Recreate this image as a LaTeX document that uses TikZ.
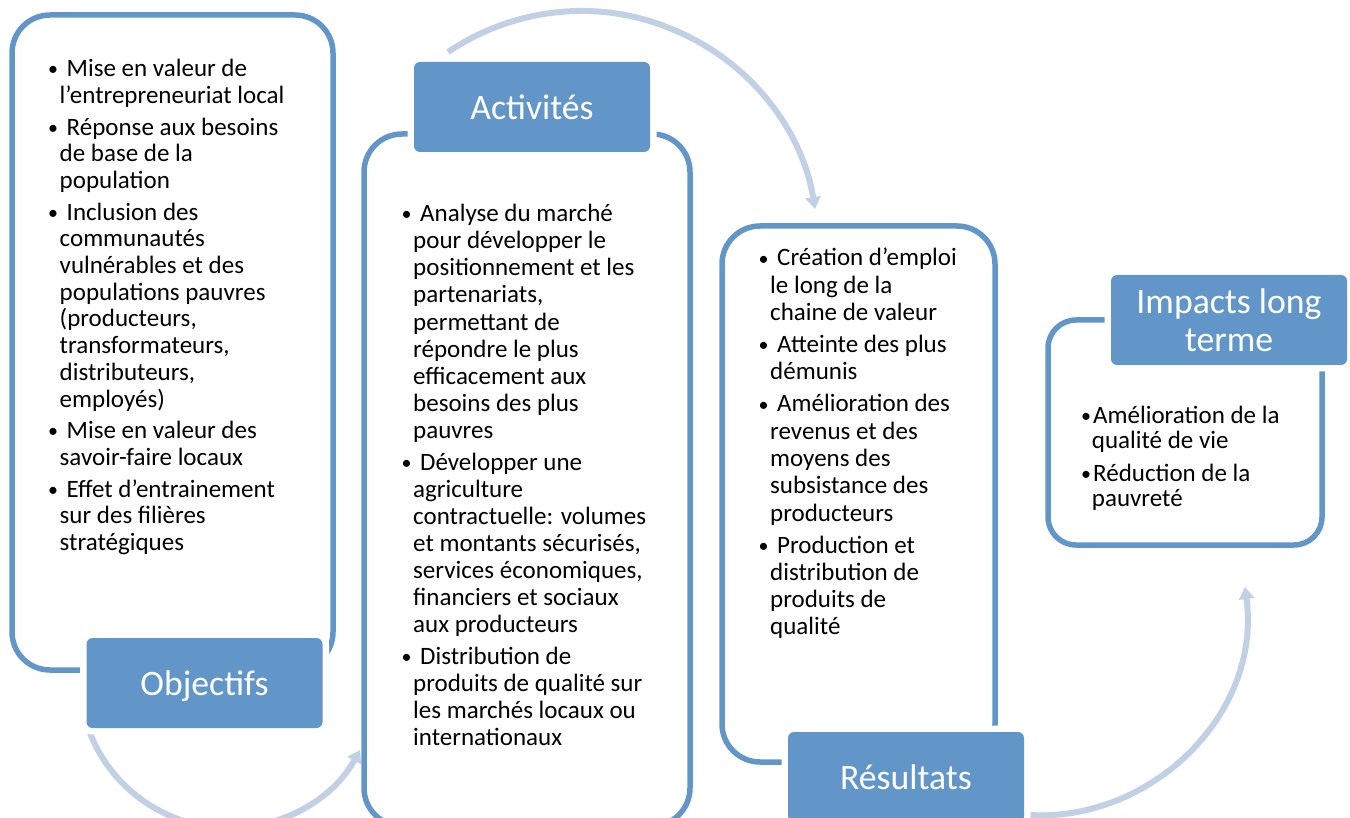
\documentclass[tikz,border=0pt]{standalone}
\usepackage{fontspec}
\setmainfont{Carlito}
\usetikzlibrary{arrows.meta}
\definecolor{boxblue}{RGB}{98,150,201}
\definecolor{arrowc}{RGB}{193,208,228}
\newcommand\bdot{\raisebox{0.8pt}{\fontsize{20}{20}\selectfont•}}
\newcommand\bul{\makebox[18.5pt][l]{\bdot}}
\newcommand\ind{\hspace*{11.5pt}}
\newcommand\bulb{\makebox[12pt][l]{\bdot}}
\newcommand\indb{\hspace*{10.7pt}}
\begin{document}
\begin{tikzpicture}[x=1pt,y=-1pt,
  boxline/.style={draw=boxblue,line width=5.5pt,rounded corners=38pt},
  smallbox/.style={draw=boxblue,line width=5.5pt,rounded corners=28pt},
  lbl/.style={preaction={draw=white,line width=13pt},fill=boxblue,rounded corners=6pt,
    minimum width=236pt,minimum height=90pt,text=white,
    font=\fontsize{35.7}{37.5}\selectfont,align=center,inner sep=0pt},
  txt/.style={anchor=base west,inner sep=0pt,text=black},
  flow/.style={draw=arrowc,line width=6pt,-{Triangle[width=15pt,length=12pt]}}]
\useasboundingbox (0,0) rectangle (1350,818);

% connectors (arcs)
\coordinate (a1s) at (90,733);
\coordinate (a1m) at (220,828);
\coordinate (a1e) at (360,750);
\coordinate (a2s) at (448,52);
\coordinate (a2m) at (674,30);
\coordinate (a2e) at (815,209);
\coordinate (a3s) at (1030,815);
\coordinate (a3e) at (1245,587);
\draw[flow] (a1s) .. controls (111,787) and (162,824) .. (a1m) .. controls (278,831) and (332,801) .. (a1e);
\draw[flow] (a2s) .. controls (515,7) and (600,-2) .. (a2m) .. controls (749,61) and (802,129) .. (a2e);
\draw[flow] (a3s) .. controls (1150,822) and (1262,715) .. (a3e);

% content boxes
\draw[boxline] (12,15) rectangle (333,670);
\draw[boxline] (364,134) rectangle (690,826);
\draw[boxline] (722,226) rectangle (995,762);
\draw[smallbox] (1048,320) rectangle (1322,545);

% labels
\node[lbl] (obj) at (204.5,683) {\raisebox{0pt}[\height][0pt]{Objectifs}};
\node[lbl] (act) at (532,107) {Activités};
\node[lbl] (res) at (906,777) {Résultats};
\node[lbl] (imp) at (1229,320) {Impacts long\\terme};

% texts
\node[txt,font=\fontsize{25}{26.7}\selectfont] (t1) at (48,76.7) {\parbox[t]{290pt}{%
\bul Mise en valeur de\\
\ind l’entrepreneuriat local\\[5pt]
\bul Réponse aux besoins\\
\ind de base de la\\
\ind population\\[5pt]
\bul Inclusion des\\
\ind communautés\\
\ind vulnérables et des\\
\ind populations pauvres\\
\ind (producteurs,\\
\ind transformateurs,\\
\ind distributeurs,\\
\ind employés)\\[5pt]
\bul Mise en valeur des\\
\ind savoir-faire locaux\\[5pt]
\bul Effet d’entrainement\\
\ind sur des filières\\
\ind stratégiques}};

\node[txt,font=\fontsize{25}{27.1}\selectfont] (t2) at (401.5,221.7) {\parbox[t]{290pt}{%
\bul Analyse du marché\\
\ind pour développer le\\
\ind positionnement et les\\
\ind partenariats,\\
\ind permettant de\\
\ind répondre le plus\\
\ind efficacement aux\\
\ind besoins des plus\\
\ind pauvres\\[4.6pt]
\bul Développer une\\
\ind agriculture\\
\ind contractuelle: volumes\\
\ind et montants sécurisés,\\
\ind services économiques,\\
\ind financiers et sociaux\\
\ind aux producteurs\\[4.6pt]
\bul Distribution de\\
\ind produits de qualité sur\\
\ind les marchés locaux ou\\
\ind internationaux}};

\node[txt,font=\fontsize{25}{27.3}\selectfont] (t3) at (758.5,266) {\parbox[t]{230pt}{%
\bul Création d’emploi\\
\ind le long de la\\
\ind chaine de valeur\\[4.7pt]
\bul Atteinte des plus\\
\ind démunis\\[4.7pt]
\bul Amélioration des\\
\ind revenus et des\\
\ind moyens des\\
\ind subsistance des\\
\ind producteurs\\[4.7pt]
\bul Production et\\
\ind distribution de\\
\ind produits de\\
\ind qualité}};

\node[txt,font=\fontsize{25}{25}\selectfont] (t4) at (1081,423.3) {\parbox[t]{230pt}{%
\bulb Amélioration de la\\
\indb qualité de vie\\[8.3pt]
\bulb Réduction de la\\
\indb pauvreté}};
\end{tikzpicture}
\end{document}
